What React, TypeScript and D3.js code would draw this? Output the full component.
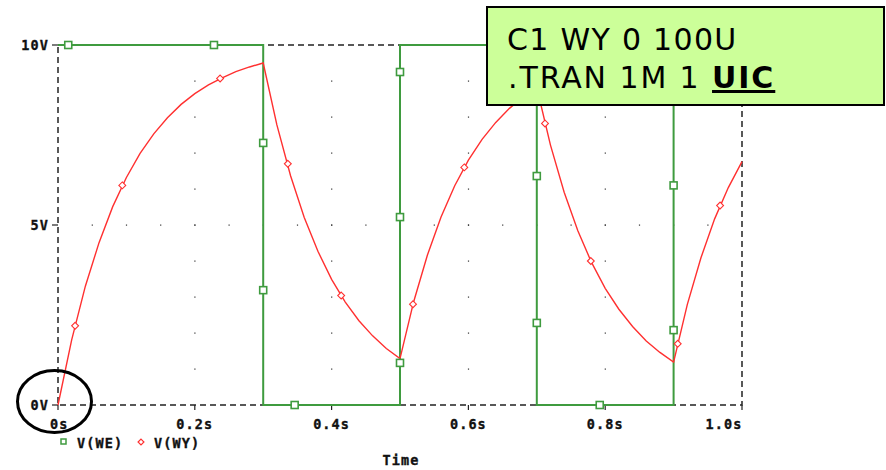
import React, { useEffect, useRef } from "react";
import * as d3 from "d3";

// V(WE): square wave source
const weTimes = [0, 0.3, 0.3, 0.5, 0.5, 0.7, 0.7, 0.9, 0.9, 1.0];
const weValues = [10, 10, 0, 0, 10, 10, 0, 0, 10, 10];
const weMarkT = [0.015, 0.228, 0.3, 0.3, 0.346, 0.5, 0.5, 0.5, 0.7, 0.7, 0.792, 0.9, 0.9];
const weMarkV = [10, 10, 7.28, 3.19, 0, 9.25, 5.22, 1.17, 6.36, 2.28, 0, 6.1, 2.08];

// V(WY): capacitor voltage, read every 0.02s
const wyTimes = [
  0, 0.02, 0.04, 0.06, 0.08, 0.1, 0.12, 0.14, 0.16, 0.18, 0.2, 0.22, 0.24, 0.26, 0.28, 0.3,
  0.32, 0.34, 0.36, 0.38, 0.4, 0.42, 0.44, 0.46, 0.48, 0.5,
  0.52, 0.54, 0.56, 0.58, 0.6, 0.62, 0.64, 0.66, 0.68, 0.7,
  0.72, 0.74, 0.76, 0.78, 0.8, 0.82, 0.84, 0.86, 0.88, 0.9,
  0.92, 0.94, 0.96, 0.98, 1.0,
];
const wyValues = [
  0, 1.81, 3.3, 4.51, 5.51, 6.32, 6.99, 7.53, 7.98, 8.35, 8.65, 8.89, 9.09, 9.26, 9.39, 9.5,
  7.78, 6.37, 5.21, 4.27, 3.49, 2.86, 2.34, 1.92, 1.57, 1.29,
  2.87, 4.16, 5.22, 6.09, 6.8, 7.38, 7.85, 8.24, 8.56, 8.82,
  7.22, 5.91, 4.84, 3.96, 3.24, 2.66, 2.18, 1.78, 1.46, 1.19,
  2.79, 4.09, 5.17, 6.04, 6.76,
];
const wyMarkT = [0.025, 0.094, 0.237, 0.336, 0.414, 0.519, 0.594, 0.712, 0.779, 0.906, 0.968];
const wyMarkV = [2.2, 6.1, 9.07, 6.7, 3.04, 2.8, 6.6, 7.82, 4.0, 1.7, 5.54];

const xTicks = [0, 0.2, 0.4, 0.6, 0.8, 1.0];
const xTickLabels = ["0s", "0.2s", "0.4s", "0.6s", "0.8s", "1.0s"];
const yTicks = [0, 5, 10];
const yTickLabels = ["0V", "5V", "10V"];
const gridVolts = [1, 2, 3, 4, 5, 6, 7, 8, 9];
const gridTimes = [0.05, 0.1, 0.15, 0.2, 0.25, 0.3, 0.35, 0.4, 0.45, 0.5, 0.55, 0.6, 0.65, 0.7, 0.75, 0.8, 0.85, 0.9, 0.95];

const WIDTH = 886;
const HEIGHT = 470;
const GREEN = "#3f9b3f";
const RED = "#ff3030";
const MONO = "'DejaVu Sans Mono', monospace";

const App = () => {
  const svgRef = useRef<SVGSVGElement>(null);

  useEffect(() => {
    const svg = d3.select(svgRef.current);
    svg.selectAll("*").remove();

    const x = d3.scaleLinear().domain([0, 1]).range([58, 742]);
    const y = d3.scaleLinear().domain([0, 10]).range([405, 45]);

    // grid dots
    const g = svg.append("g").attr("fill", "#333");
    xTicks.slice(1, -1).forEach((t) => {
      gridVolts.forEach((v) => {
        g.append("rect").attr("x", x(t) - 0.5).attr("y", y(v) - 0.5).attr("width", 1.2).attr("height", 1.2);
      });
    });
    gridTimes.forEach((t) => {
      g.append("rect").attr("x", x(t) - 0.5).attr("y", y(5) - 0.5).attr("width", 1.2).attr("height", 1.2);
    });

    // dashed frame
    svg.append("rect")
      .attr("x", x(0)).attr("y", y(10))
      .attr("width", x(1) - x(0)).attr("height", y(0) - y(10))
      .attr("fill", "none").attr("stroke", "#222").attr("stroke-width", 1.5)
      .attr("stroke-dasharray", "6,4");

    // x ticks + labels
    const ax = svg.append("g").attr("font-family", MONO).attr("font-weight", "bold")
      .attr("font-size", 13.5).attr("fill", "#111").attr("stroke", "#111").attr("stroke-width", 0.35)
      .attr("letter-spacing", 1.1);
    xTicks.forEach((t, i) => {
      ax.append("line").attr("x1", x(t)).attr("x2", x(t)).attr("y1", y(0)).attr("y2", y(0) + 5)
        .attr("stroke", "#222").attr("stroke-width", 1.2);
      ax.append("text").attr("x", x(t) - (i === xTicks.length - 1 ? 18 : 0)).attr("y", 429)
        .attr("text-anchor", i === 0 ? "start" : "middle").text(xTickLabels[i])
        .attr("dx", i === 0 ? -8 : 0);
    });
    yTicks.forEach((v, i) => {
      ax.append("line").attr("x1", x(0) - 6).attr("x2", x(0)).attr("y1", y(v)).attr("y2", y(v))
        .attr("stroke", "#222").attr("stroke-width", 1.2);
      ax.append("text").attr("x", 49).attr("y", y(v) + 5).attr("text-anchor", "end").text(yTickLabels[i]);
    });
    ax.append("text").attr("x", 401).attr("y", 465).attr("text-anchor", "middle").text("Time");

    // legend
    ax.append("rect").attr("x", 61).attr("y", 439).attr("width", 5).attr("height", 5)
      .attr("fill", "white").attr("stroke", GREEN).attr("stroke-width", 1.5);
    ax.append("text").attr("x", 77).attr("y", 448).text("V(WE)");
    ax.append("path").attr("d", d3.symbol(d3.symbolDiamond2, 22)()).attr("transform", "translate(141,442)")
      .attr("fill", "white").attr("stroke", RED).attr("stroke-width", 1.2);
    ax.append("text").attr("x", 154).attr("y", 448).text("V(WY)");

    // V(WE)
    const weLine = d3.line<number>().x((_, i) => x(weTimes[i])).y((d) => y(d));
    svg.append("path").datum(weValues).attr("d", weLine)
      .attr("fill", "none").attr("stroke", GREEN).attr("stroke-width", 2);

    // V(WY)
    const wyLine = d3.line<number>().x((_, i) => x(wyTimes[i])).y((d) => y(d)).curve(d3.curveLinear);
    svg.append("path").datum(wyValues).attr("d", wyLine)
      .attr("fill", "none").attr("stroke", RED).attr("stroke-width", 1.4);

    // markers
    weMarkT.forEach((t, i) => {
      svg.append("rect").attr("x", x(t) - 3.5).attr("y", y(weMarkV[i]) - 3.5)
        .attr("width", 7).attr("height", 7)
        .attr("fill", "white").attr("stroke", GREEN).attr("stroke-width", 1.6);
    });
    const diamond = d3.symbol(d3.symbolDiamond2, 30)();
    wyMarkT.forEach((t, i) => {
      svg.append("path").attr("d", diamond)
        .attr("transform", `translate(${x(t)},${y(wyMarkV[i])})`)
        .attr("fill", "white").attr("stroke", RED).attr("stroke-width", 1.1);
    });

    // circle around origin
    svg.append("ellipse").attr("cx", 54.5).attr("cy", 401.5).attr("rx", 37).attr("ry", 31)
      .attr("fill", "none").attr("stroke", "black").attr("stroke-width", 3);

    // netlist callout
    svg.append("rect").attr("x", 487).attr("y", 7).attr("width", 397).attr("height", 98)
      .attr("fill", "#ccff99").attr("stroke", "black").attr("stroke-width", 2);
    const note = svg.append("g").attr("font-family", "'DejaVu Sans', Verdana, sans-serif")
      .attr("font-size", 30).attr("fill", "black");
    note.append("text").attr("x", 507).attr("y", 50).attr("letter-spacing", 1.3).text("C1 WY 0 100U");
    const l2 = note.append("text").attr("x", 508).attr("y", 88).attr("letter-spacing", 1.9);
    l2.append("tspan").text(".TRAN 1M 1 ");
    l2.append("tspan").attr("font-weight", "bold").attr("text-decoration", "underline").text("UIC");
  }, []);

  return (
    <svg ref={svgRef} width={WIDTH} height={HEIGHT}
      style={{ position: "absolute", left: 0, top: 0, background: "white" }} />
  );
};

export default App;
